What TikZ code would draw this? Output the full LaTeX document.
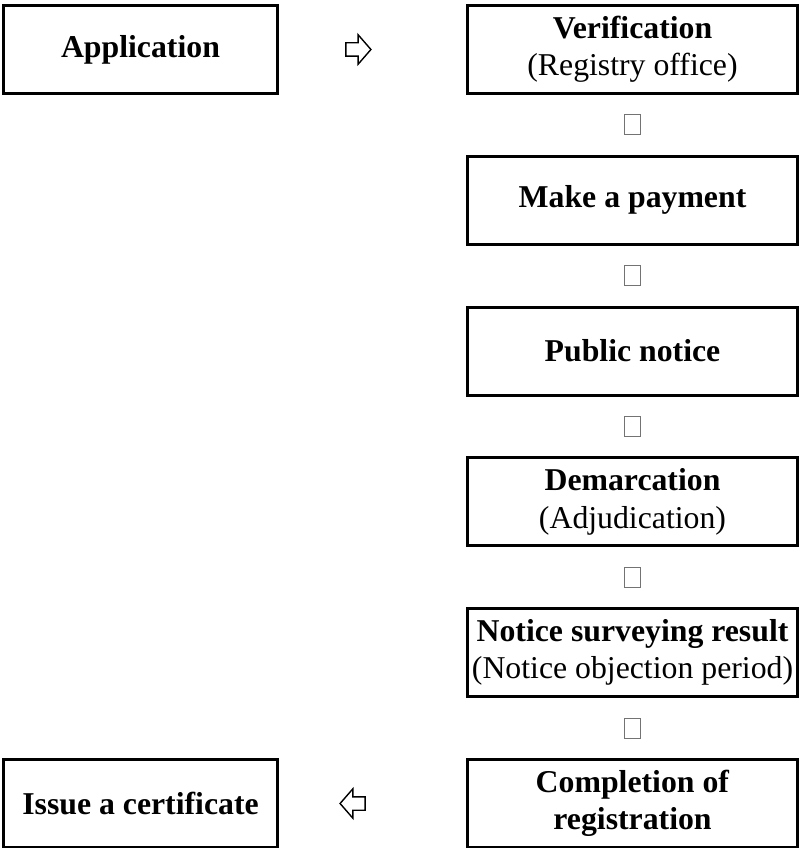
\documentclass[tikz,border=0pt]{standalone}
\usepackage{fontspec}
\setmainfont{Liberation Serif}
\usetikzlibrary{positioning,shapes.arrows}
\tikzset{
        stepbox/.style={draw, rectangle, line width=0.075cm, minimum width=8.25cm, minimum height=2.2cm, align=center, inner sep=0pt, font=\fontsize{22.6}{26.5}\selectfont},
        sidebox/.style={stepbox, minimum width=6.85cm},
        gapmark/.style={draw=black!55, line width=0.025cm, minimum width=0.4cm, minimum height=0.5cm, inner sep=0pt},
        hollow/.style={draw, single arrow, line width=0.035cm, minimum height=0.625cm, minimum width=0.7cm, inner xsep=0pt, inner ysep=0.15cm, single arrow head extend=0.2cm, single arrow tip angle=98},
    }
\begin{document}
\begin{tikzpicture}[node distance=0.485cm]
        \useasboundingbox (0,0) rectangle (19.975,-21.2);

        % Left column
        \node[sidebox] (app) at (3.5125,-1.2375) {\textbf{Application}};

        % Right column (steps)
        \node[stepbox] (verif) at (15.8125,-1.2375) {\textbf{Verification}\\(Registry office)};
        \node[gapmark, below=of verif] (g1) {};
        \node[stepbox, below=of g1] (pay) {\textbf{Make a payment}};
        \node[gapmark, below=of pay] (g2) {};
        \node[stepbox, below=of g2] (notice) {\textbf{Public notice}};
        \node[gapmark, below=of notice] (g3) {};
        \node[stepbox, below=of g3] (demarc) {\textbf{Demarcation}\\(Adjudication)};
        \node[gapmark, below=of demarc] (g4) {};
        \node[stepbox, below=of g4] (survey) {\textbf{Notice surveying result}\\(Notice objection period)};
        \node[gapmark, below=of survey] (g5) {};
        \node[stepbox, below=of g5] (compl) {\textbf{Completion of}\\\textbf{registration}};

        % Left column, last row
        \node[sidebox] (issue) at (app |- compl) {\textbf{Issue a certificate}};

        % Hollow arrows between the columns
        \node[hollow] (toverif) at (8.8875,-1.2375) {};
        \node[hollow, shape border rotate=180] (toissue) at (toverif |- compl) {};

    \end{tikzpicture}
\end{document}
